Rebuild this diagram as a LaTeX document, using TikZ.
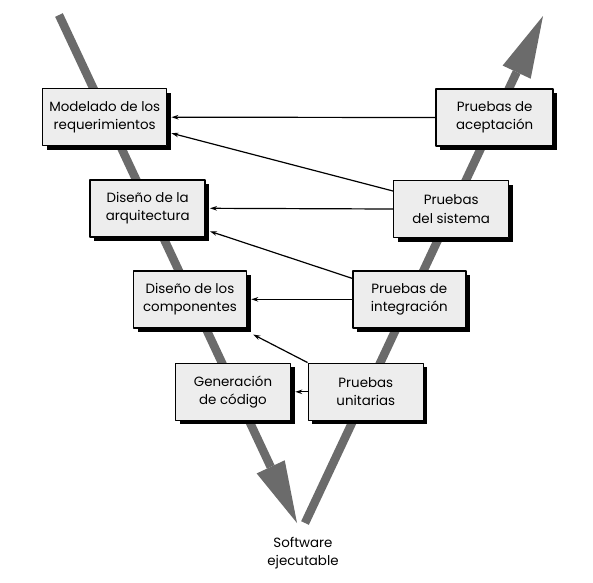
\documentclass[tikz,border=0pt]{standalone}
\usepackage{fontspec}
\setmainfont{Poppins}
\usetikzlibrary{arrows.meta,shadows}
\begin{document}
\begin{tikzpicture}[x=1pt,y=-1pt,font=\fontsize{13.4}{18.5}\selectfont,line join=round,>={Stealth[length=7pt,width=4.5pt]}]
	\tikzset{etapa/.style={draw,line width=1.5pt,fill=black!7,align=center,minimum width=115pt,minimum height=57pt,inner sep=2pt,
			drop shadow={shadow xshift=4pt,shadow yshift=-4pt,fill=black,opacity=1}},
		via/.style={line width=8.5pt,draw=black!58,-{Triangle[width=31pt,length=62pt,line width=0pt]}},
		flecha/.style={->,line width=1.2pt}}
	\useasboundingbox (0,0) rectangle (593,582);
	\draw[via] (59,15)--(297,523);
	\draw[via] (305,523)--(543,16);
	\node[etapa,minimum width=124pt] (mod) at (104.7,117.2) {Modelado de los\\requerimientos};
	\node[etapa] (arq) at (147.7,208.3) {Diseño de la\\arquitectura};
	\node[etapa,minimum width=113pt] (comp) at (190,299.3) {Diseño de los\\componentes};
	\node[etapa] (gen) at (233,391.8) {Generación\\de código};
	\node[etapa,minimum width=117pt] (acep) at (494.7,117.5) {Pruebas de\\aceptación};
	\node[etapa] (sis) at (451.2,209) {Pruebas\\del sistema};
	\node[etapa,minimum width=113pt] (integ) at (409.3,299.3) {Pruebas de\\integración};
	\node[etapa] (unit) at (365.8,391.8) {Pruebas\\unitarias};
	\node[align=center] (sw) at (303,553) {Software\\ejecutable};
	\foreach \a/\b in {acep/mod,sis/arq,integ/comp,unit/gen}
	\draw[flecha] (\a.west)--([xshift=4pt]\b.east);
	\draw[flecha] ([yshift=18pt]sis.west)--([xshift=4pt,yshift=-16pt]mod.east);
	\draw[flecha] ([yshift=21pt]integ.west)--([xshift=4pt,yshift=-23pt]arq.east);
	\draw[flecha] (unit.north west)--([xshift=6pt,yshift=-6pt]comp.south east);
\end{tikzpicture}
\end{document}
